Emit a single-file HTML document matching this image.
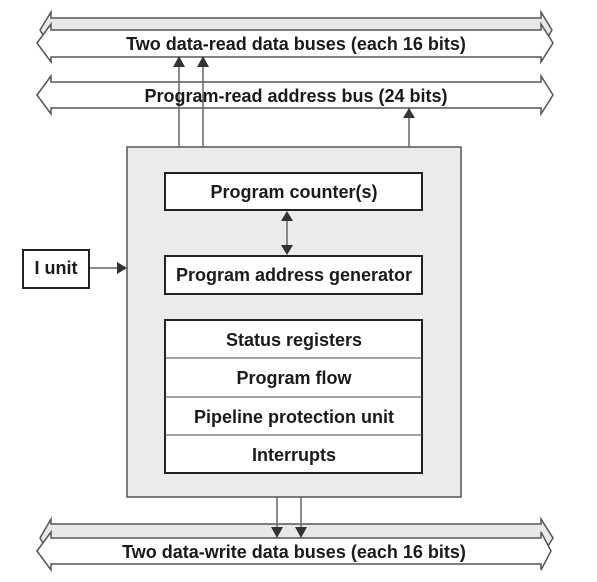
<!DOCTYPE html>
<html><head><style>body{margin:0;background:#fff}</style></head><body>
<svg width="597" height="577" xmlns="http://www.w3.org/2000/svg" font-family="Liberation Sans, sans-serif" font-weight="bold" font-size="18">
<g stroke="#555" stroke-width="1.5">
<path d="M40,30 L51,12 L51,18 L541,18 L541,12 L552,30 L541,48 L541,42 L51,42 L51,48 Z" fill="#e8e8e8"/>
<path d="M37,43 L51,24 L51,30 L541,30 L541,24 L553,43 L541,62 L541,57 L51,57 L51,62 Z" fill="#fff"/>
<path d="M37,95 L51,76 L51,82 L541,82 L541,76 L553,95 L541,114 L541,108 L51,108 L51,114 Z" fill="#fff"/>
<path d="M40,538 L51,519 L51,524 L541,524 L541,519 L553,538 L541,557 L541,552 L51,552 L51,557 Z" fill="#e8e8e8"/>
<path d="M37,551 L51,532 L51,538 L541,538 L541,532 L551,551 L541,570 L541,564 L51,564 L51,570 Z" fill="#fff"/>
</g>
<rect x="127" y="147" width="334" height="350" fill="#ebebeb" stroke="#555" stroke-width="1.5"/>
<g stroke="#666" stroke-width="1.5">
<line x1="179" y1="147" x2="179" y2="66"/>
<line x1="203" y1="147" x2="203" y2="66"/>
<line x1="409" y1="147" x2="409" y2="117"/>
<line x1="277" y1="497" x2="277" y2="528"/>
<line x1="301" y1="497" x2="301" y2="528"/>
<line x1="89" y1="268" x2="118" y2="268"/>
<line x1="287" y1="219" x2="287" y2="247"/>
</g>
<g fill="#333">
<path d="M173,67 L179,56 L185,67Z"/>
<path d="M197,67 L203,56 L209,67Z"/>
<path d="M403,118 L409,108 L415,118Z"/>
<path d="M271,527 L277,538 L283,527Z"/>
<path d="M295,527 L301,538 L307,527Z"/>
<path d="M117,262 L127,268 L117,274Z"/>
<path d="M281,221 L287,211 L293,221Z"/>
<path d="M281,245 L287,255 L293,245Z"/>
</g>
<g stroke="#222" stroke-width="2" fill="#fff">
<rect x="165" y="173" width="257" height="37"/>
<rect x="165" y="256" width="257" height="38"/>
<rect x="165" y="320" width="257" height="153"/>
<rect x="23" y="250" width="66" height="38"/>
</g>
<g stroke="#444" stroke-width="1"><line x1="165" y1="358" x2="422" y2="358"/><line x1="165" y1="397" x2="422" y2="397"/><line x1="165" y1="435" x2="422" y2="435"/></g>
<g fill="#1a1a1a" text-anchor="middle">
<text x="296" y="50">Two data-read data buses (each 16 bits)</text>
<text x="296" y="102">Program-read address bus (24 bits)</text>
<text x="294" y="198">Program counter(s)</text>
<text x="294" y="281">Program address generator</text>
<text x="294" y="346">Status registers</text>
<text x="294" y="384">Program flow</text>
<text x="294" y="423">Pipeline protection unit</text>
<text x="294" y="461">Interrupts</text>
<text x="56" y="274">I unit</text>
<text x="294" y="558">Two data-write data buses (each 16 bits)</text>
</g>
</svg>
</body></html>
